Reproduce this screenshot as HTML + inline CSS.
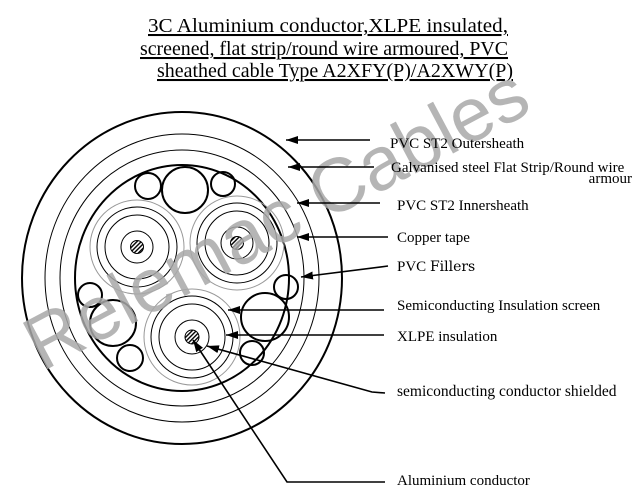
<!DOCTYPE html>
<html><head><meta charset="utf-8"><style>
html,body{margin:0;padding:0;background:#fff;}
svg{display:block;}
text{font-family:"Liberation Serif",serif;fill:#000;}
</style></head><body>
<svg width="638" height="498" viewBox="0 0 638 498" xmlns="http://www.w3.org/2000/svg">
<defs>
<pattern id="h" width="3" height="3" patternUnits="userSpaceOnUse" patternTransform="rotate(45)">
<rect width="3" height="3" fill="#fff"/><rect width="1.4" height="3" fill="#000"/></pattern>
<marker id="a" markerWidth="12" markerHeight="8" refX="12" refY="4" orient="auto" markerUnits="userSpaceOnUse">
<path d="M0,0 L12,4 L0,8 Z" fill="#000"/></marker>
</defs>
<g font-size="20.5" text-decoration="underline">
<text x="148" y="32" textLength="360" lengthAdjust="spacingAndGlyphs">3C Aluminium conductor,XLPE insulated,</text>
<text x="140" y="55" textLength="368" lengthAdjust="spacingAndGlyphs">screened, flat strip/round wire armoured, PVC</text>
<text x="157" y="77" textLength="356" lengthAdjust="spacingAndGlyphs">sheathed cable Type A2XFY(P)/A2XWY(P)</text>
</g>
<g fill="none" stroke="#000">
<ellipse cx="182" cy="278" rx="160" ry="166" stroke-width="2"/>
<ellipse cx="182" cy="278" rx="137" ry="144" stroke-width="1"/>
<ellipse cx="182" cy="278" rx="122" ry="128" stroke-width="1"/>
<ellipse cx="182" cy="278" rx="107" ry="113" stroke-width="2"/>
</g>
<g fill="none" stroke="#000" stroke-width="2">
<circle cx="185" cy="190" r="23"/><circle cx="148" cy="186" r="13"/><circle cx="223" cy="184" r="12"/>
<circle cx="286" cy="287" r="12"/><circle cx="265" cy="317" r="24"/><circle cx="252" cy="353" r="12"/>
<circle cx="90" cy="295" r="12"/><circle cx="113" cy="323" r="23"/><circle cx="130" cy="358" r="13"/>
</g>
<g>
<circle cx="137" cy="247" r="47" fill="none" stroke="#999" stroke-width="1"/>
<circle cx="137" cy="247" r="40" fill="none" stroke="#000"/>
<circle cx="137" cy="247" r="32" fill="none" stroke="#000"/>
<circle cx="137" cy="247" r="16" fill="none" stroke="#000"/>
<circle cx="137" cy="247" r="6.5" fill="url(#h)" stroke="#000"/>
</g>
<g>
<circle cx="237" cy="243" r="47" fill="none" stroke="#999" stroke-width="1"/>
<circle cx="237" cy="243" r="40" fill="none" stroke="#000"/>
<circle cx="237" cy="243" r="32" fill="none" stroke="#000"/>
<circle cx="237" cy="243" r="16" fill="none" stroke="#000"/>
<circle cx="237" cy="243" r="6.5" fill="url(#h)" stroke="#000"/>
</g>
<g>
<circle cx="192" cy="337" r="48" fill="none" stroke="#999" stroke-width="1"/>
<circle cx="192" cy="337" r="41" fill="none" stroke="#000"/>
<circle cx="192" cy="337" r="33" fill="none" stroke="#000"/>
<circle cx="192" cy="337" r="17" fill="none" stroke="#000"/>
<circle cx="192" cy="337" r="7" fill="url(#h)" stroke="#000"/>
</g>
<text x="0" y="0" font-size="76" transform="translate(42,372) rotate(-28)" style="font-family:'Liberation Sans',sans-serif;fill:#a8a8a8;fill-opacity:0.85">Relemac Cables</text>
<g stroke="#000" stroke-width="1.6" fill="none">
<line x1="370" y1="140" x2="286" y2="140" marker-end="url(#a)"/>
<line x1="374" y1="167" x2="288" y2="167" marker-end="url(#a)"/>
<line x1="380" y1="203" x2="297" y2="203" marker-end="url(#a)"/>
<line x1="388" y1="237" x2="297" y2="237" marker-end="url(#a)"/>
<line x1="388" y1="266" x2="301" y2="277" marker-end="url(#a)"/>
<line x1="384" y1="310" x2="228" y2="310" marker-end="url(#a)"/>
<line x1="384" y1="335" x2="226" y2="335" marker-end="url(#a)"/>
<path d="M385,393 L372,392 L207,346" marker-end="url(#a)"/>
<path d="M385,482 L287,482 L193,340" marker-end="url(#a)"/>
</g>
<g font-size="15">
<text x="390" y="148">PVC ST2 Outersheath</text>
<text x="391" y="172">Galvanised steel Flat Strip/Round wire</text>
<text x="632" y="183" text-anchor="end">armour</text>
<text x="397" y="210">PVC ST2 Innersheath</text>
<text x="397" y="242">Copper tape</text>
<text x="397" y="271">PVC <tspan style="font-family:'DejaVu Serif',serif" font-size="14">Fillers</tspan></text>
<text x="397" y="310">Semiconducting Insulation screen</text>
<text x="397" y="341">XLPE insulation</text>
<text x="397" y="396" font-size="15.5">semiconducting conductor shielded</text>
<text x="397" y="485">Aluminium conductor</text>
</g>
</svg>
</body></html>
